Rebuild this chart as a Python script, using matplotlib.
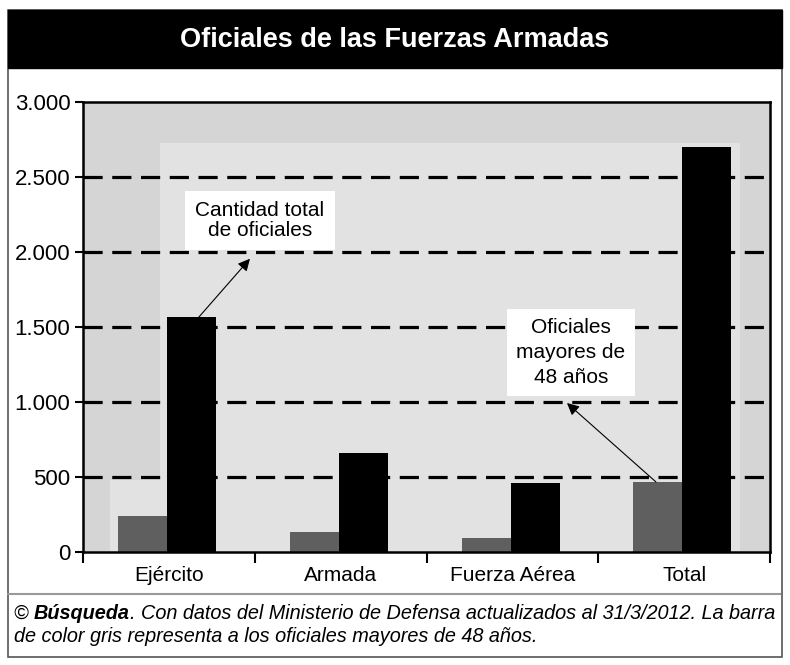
import matplotlib.pyplot as plt
from matplotlib.patches import Rectangle
from matplotlib import font_manager

# data
categories = ['Ejército', 'Armada', 'Fuerza Aérea', 'Total']
mayores_48 = [240, 135, 95, 470]
total_oficiales = [1570, 660, 460, 2700]
yticks = [0, 500, 1000, 1500, 2000, 2500, 3000]
ytick_labels = ['0', '500', '1.000', '1.500', '2.000', '2.500', '3.000']

names = {f.name for f in font_manager.fontManager.ttflist}
narrow = 'Liberation Sans Narrow' if 'Liberation Sans Narrow' in names else 'Liberation Sans'
plt.rcParams['font.family'] = [narrow, 'DejaVu Sans']

fig = plt.figure(figsize=(7.9, 6.65), dpi=100)
W, H = 790, 665

# outer frame, title band, separator
fig.patches.append(Rectangle((8 / W, 1 - 657 / H), 774 / W, 647 / H, transform=fig.transFigure,
                             facecolor='white', edgecolor='#555555', lw=1.2, zorder=-5))
fig.patches.append(Rectangle((8 / W, 1 - 68 / H), 774 / W, 58 / H, transform=fig.transFigure,
                             facecolor='black', edgecolor='black', zorder=-4))
fig.text(395 / W, 1 - 40 / H, 'Oficiales de las Fuerzas Armadas', color='white',
         fontsize=19.5, fontweight='bold', ha='center', va='center')
fig.add_artist(plt.Line2D([8 / W, 780 / W], [1 - 594 / H, 1 - 594 / H], color='#999999', lw=1.5))

ax = fig.add_axes([83 / W, 1 - 552 / H, 687 / W, 450 / H])
ax.set_zorder(2)
ax.set_facecolor('#d5d5d5')
# lighter inner panels of the original graphic
ax.add_patch(Rectangle((-0.05, 0), 3.375, 2727, facecolor='#e2e2e2', edgecolor='none', zorder=0))
ax.add_patch(Rectangle((-0.343, 0), 0.3, 480, facecolor='#e2e2e2', edgecolor='none', zorder=0))

x = list(range(len(categories)))
w = 0.285
ax.bar([i - w / 2 - 0.01 for i in x], mayores_48, width=w, color='#5f5f5f', zorder=2)
ax.bar([i + w / 2 - 0.01 for i in x], total_oficiales, width=w, color='black', zorder=2)

for y in yticks[1:-1]:
    ax.axhline(y, color='black', lw=2.3, dashes=(6, 3), zorder=1)

ax.set_xlim(-0.5, 3.5)
ax.set_ylim(0, 3000)
ax.set_yticks(yticks)
ax.set_yticklabels(ytick_labels, fontsize=16)
ax.set_xticks([-0.5, 0.5, 1.5, 2.5, 3.5])
ax.set_xticklabels([])
ax.set_xticks(x, minor=True)
ax.set_xticklabels(categories, minor=True, fontsize=15)
ax.tick_params(axis='x', which='minor', length=0, pad=10)
ax.tick_params(axis='x', which='major', length=8, width=1.5, direction='out')
ax.tick_params(axis='y', length=6, width=1.5, pad=3)
for s in ax.spines.values():
    s.set_linewidth(1.8)

box = dict(boxstyle='square,pad=0.5', facecolor='white', edgecolor='none')
arrow = dict(arrowstyle='-|>', color='black', lw=0.8, mutation_scale=18, shrinkA=0, shrinkB=0)
ax.text(0.53, 2210, 'Cantidad total\nde oficiales', fontsize=15, ha='center', va='center',
        bbox=box, zorder=5, linespacing=1.05)
ax.annotate('', xy=(0.472, 1955), xytext=(0.17, 1560), arrowprops=arrow, zorder=5)
ax.text(2.34, 1330, 'Oficiales\nmayores de\n48 años', fontsize=15, ha='center', va='center',
        bbox=dict(boxstyle='square,pad=0.45', facecolor='white', edgecolor='none'),
        zorder=5, linespacing=1.38)
ax.annotate('', xy=(2.318, 993), xytext=(2.836, 467), arrowprops=arrow, zorder=5)

fs = 14.3
t1 = fig.text(14 / W, 1 - 619 / H, '© ', fontsize=fs, style='italic', va='baseline')
t2 = ax.annotate('Búsqueda', xy=(1, 0), xycoords=t1, va='bottom', fontsize=fs,
                 style='italic', fontweight='bold', annotation_clip=False)
ax.annotate('. Con datos del Ministerio de Defensa actualizados al 31/3/2012. La barra',
            xy=(1, 0), xycoords=t2, va='bottom', fontsize=fs, style='italic',
            annotation_clip=False)
fig.text(14 / W, 1 - 642 / H, 'de color gris representa a los oficiales mayores de 48 años.',
         fontsize=fs, style='italic', va='baseline')

fig.savefig('out.png', dpi=100)
